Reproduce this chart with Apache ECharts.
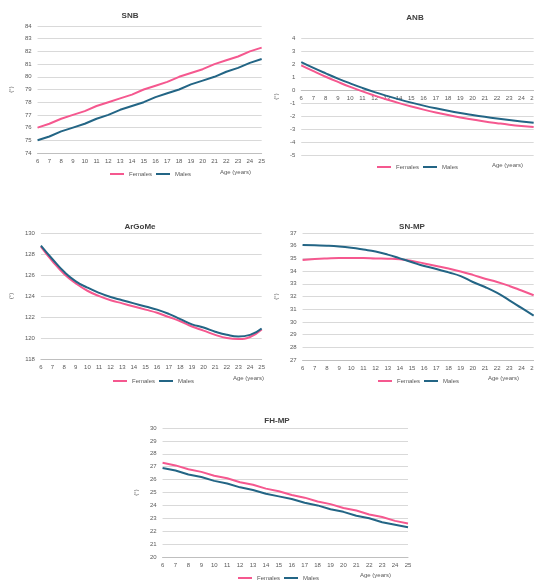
<!DOCTYPE html>
<html>
<head>
<meta charset="utf-8">
<script src="https://cdn.jsdelivr.net/npm/echarts@6/dist/echarts.min.js"></script>
<style>
html,body{margin:0;padding:0;width:534px;height:582px;overflow:hidden;background:#fff;}
.chart{position:absolute;}
</style>
</head>
<body>
<div class="chart" id="c1" style="left:0;top:0;width:268px;height:190px"></div>
<div class="chart" id="c2" style="left:265px;top:0;width:275px;height:190px"></div>
<div class="chart" id="c3" style="left:0;top:195px;width:268px;height:195px"></div>
<div class="chart" id="c4" style="left:265px;top:195px;width:275px;height:195px"></div>
<div class="chart" id="c5" style="left:125px;top:395px;width:290px;height:187px"></div>
<script>
// ages on the x axis (years)
var ages = ['6','7','8','9','10','11','12','13','14','15','16','17','18','19','20','21','22','23','24','25'];

// SNB
var snb_females = [76.0,76.3,76.7,77.0,77.3,77.7,78.0,78.3,78.6,79.0,79.3,79.6,80.0,80.3,80.6,81.0,81.3,81.6,82.0,82.3];
var snb_males   = [75.0,75.3,75.7,76.0,76.3,76.7,77.0,77.4,77.7,78.0,78.4,78.7,79.0,79.4,79.7,80.0,80.4,80.7,81.1,81.4];

// ANB
var anb_females = [1.90,1.45,1.02,0.62,0.24,-0.11,-0.43,-0.73,-1.01,-1.27,-1.51,-1.73,-1.93,-2.11,-2.27,-2.42,-2.55,-2.67,-2.77,-2.85];
var anb_males   = [2.15,1.70,1.28,0.88,0.51,0.16,-0.16,-0.45,-0.72,-0.97,-1.20,-1.41,-1.60,-1.77,-1.92,-2.06,-2.19,-2.31,-2.42,-2.52];

// ArGoMe
var gonial_females = [128.7,127.3,126.1,125.2,124.5,124.0,123.6,123.3,123.0,122.7,122.4,122.0,121.6,121.1,120.7,120.3,120.0,119.9,120.1,120.8];
var gonial_males   = [128.8,127.5,126.3,125.4,124.8,124.3,123.9,123.6,123.3,123.0,122.7,122.3,121.8,121.3,121.0,120.6,120.3,120.15,120.3,120.9];

// SN-MP
var snmp_females = [34.87,34.95,35.0,35.03,35.03,35.03,35.0,34.98,34.93,34.8,34.6,34.4,34.2,33.97,33.7,33.4,33.14,32.83,32.47,32.1];
var snmp_males   = [36.06,36.03,36.0,35.94,35.84,35.7,35.54,35.3,35.0,34.7,34.4,34.17,33.9,33.6,33.14,32.75,32.28,31.7,31.1,30.5];

// FH-MP
var fhmp_females = [27.3,27.1,26.8,26.6,26.3,26.1,25.8,25.6,25.3,25.1,24.8,24.6,24.3,24.1,23.8,23.6,23.3,23.1,22.8,22.6];
var fhmp_males   = [26.9,26.7,26.4,26.2,25.9,25.7,25.4,25.2,24.9,24.7,24.5,24.2,24.0,23.7,23.5,23.2,23.0,22.7,22.5,22.3];

var female_color = '#f5588f';
var male_color = '#236585';
var text_color = '#595959';
var font = 'Liberation Sans, Arial, sans-serif';

function make_option(cfg){
    return {
        animation: false,
        title: {
            text: cfg.title,
            left: cfg.titleX - 5,
            top: cfg.titleY,
            textAlign: 'center',
            textStyle: {fontSize: 8, fontWeight: 'bold', color: '#404040', fontFamily: font}
        },
        legend: {
            data: ['Females', 'Males'],
            left: cfg.legend[0],
            top: cfg.legend[1],
            icon: 'rect',
            itemWidth: 14,
            itemHeight: 2,
            itemGap: 4,
            padding: 0,
            textStyle: {fontSize: 6, color: text_color, fontFamily: font}
        },
        graphic: [{
            type: 'text',
            left: cfg.age[0],
            top: cfg.age[1],
            style: {text: 'Age (years)', fontSize: 6, fill: text_color, fontFamily: font}
        }],
        grid: {left: cfg.grid[0], top: cfg.grid[1], width: cfg.grid[2], height: cfg.grid[3], containLabel: false},
        xAxis: {
            type: 'category',
            data: ages,
            boundaryGap: false,
            offset: cfg.xOffset || 0,   // ANB: axis sits on the zero line
            axisTick: {show: false},
            axisLine: {onZero: false, lineStyle: {color: '#bfbfbf'}},
            axisLabel: {fontSize: 6, color: text_color, interval: 0, margin: 5, fontFamily: font}
        },
        yAxis: {
            type: 'value',
            min: cfg.y[0],
            max: cfg.y[1],
            interval: cfg.y[2],
            name: '(°)',
            nameLocation: 'middle',
            nameRotate: 90,
            nameGap: cfg.nameGap,
            nameTextStyle: {fontSize: 6, color: text_color, fontFamily: font},
            axisLine: {show: false},
            axisTick: {show: false},
            splitLine: {lineStyle: {color: '#d9d9d9'}},
            axisLabel: {fontSize: 6, color: text_color, margin: 6, fontFamily: font}
        },
        series: [
            {name: 'Females', type: 'line', data: cfg.females, smooth: cfg.smooth, symbol: 'none',
             lineStyle: {color: female_color, width: 2}, itemStyle: {color: female_color}},
            {name: 'Males', type: 'line', data: cfg.males, smooth: cfg.smooth, symbol: 'none',
             lineStyle: {color: male_color, width: 2}, itemStyle: {color: male_color}}
        ]
    };
}

var charts = [
    {id: 'c1', title: 'SNB', titleX: 130, titleY: 7, grid: [35, 26, 232, 127], y: [74, 84, 1],
     females: snb_females, males: snb_males, legend: [110, 171], age: [220, 169], nameGap: 18, smooth: false},
    {id: 'c2', title: 'ANB', titleX: 150, titleY: 9, grid: [32, 38, 238, 117], y: [-5, 4, 1], xOffset: -65,
     females: anb_females, males: anb_males, legend: [112, 164], age: [227, 162], nameGap: 16, smooth: true},
    {id: 'c3', title: 'ArGoMe', titleX: 140, titleY: 23, grid: [38, 38, 225, 126], y: [118, 130, 2],
     females: gonial_females, males: gonial_males, legend: [113, 183], age: [233, 180], nameGap: 24, smooth: true},
    {id: 'c4', title: 'SN-MP', titleX: 147, titleY: 23, grid: [37, 38, 236, 127], y: [27, 37, 1],
     females: snmp_females, males: snmp_males, legend: [113, 183], age: [223, 180], nameGap: 18, smooth: true},
    {id: 'c5', title: 'FH-MP', titleX: 152, titleY: 17, grid: [33, 33, 250, 129], y: [20, 30, 1],
     females: fhmp_females, males: fhmp_males, legend: [113, 180], age: [235, 177], nameGap: 18, smooth: false}
];

charts.forEach(function(c){
    var chart = echarts.init(document.getElementById(c.id));
    chart.setOption(make_option(c));
});
</script>
</body>
</html>
